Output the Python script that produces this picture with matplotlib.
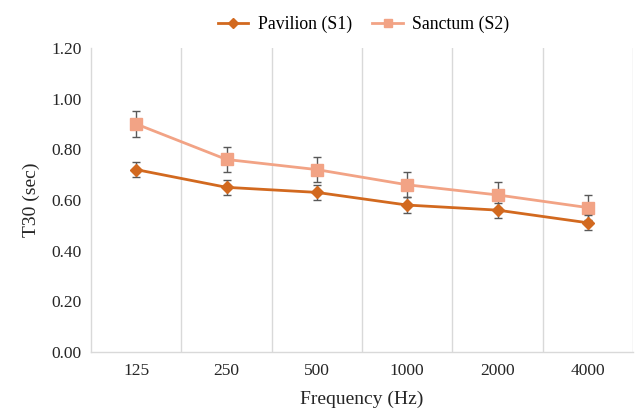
import matplotlib.pyplot as plt
from matplotlib.lines import Line2D
import numpy as np

plt.rcParams['font.family'] = ['Liberation Serif', 'DejaVu Serif']

freqs = ["125", "250", "500", "1000", "2000", "4000"]
pavilion = [0.72, 0.65, 0.63, 0.58, 0.56, 0.51]
pavilion_err = [0.03, 0.03, 0.03, 0.03, 0.03, 0.03]
sanctum = [0.90, 0.76, 0.72, 0.66, 0.62, 0.57]
sanctum_err = [0.05, 0.05, 0.05, 0.05, 0.05, 0.05]

c_pav = "#D2691F"
c_san = "#F2A385"

fig = plt.figure(figsize=(6.36, 4.13), dpi=100)
ax = fig.add_axes([0.1431, 0.1477, 0.8522, 0.7361])

x = np.arange(len(freqs))

# category boundaries as vertical grid
for b in np.arange(0.5, len(freqs) - 0.5 + 1, 1.0):
    ax.axvline(b, color="#d9d9d9", lw=1.0, zorder=0)

ax.errorbar(x, pavilion, yerr=pavilion_err, color=c_pav, lw=2.0, marker="D", ms=6,
            ecolor="#595959", elinewidth=1.0, capsize=3, capthick=1.0, zorder=3)
ax.errorbar(x, sanctum, yerr=sanctum_err, color=c_san, lw=2.0, marker="s", ms=8,
            ecolor="#595959", elinewidth=1.0, capsize=3, capthick=1.0, zorder=2)

ax.set_xlim(-0.5, len(freqs) - 0.5)
ax.set_ylim(0, 1.2)
ax.set_yticks(np.arange(0, 1.21, 0.2))
ax.set_yticklabels(["%.2f" % v for v in np.arange(0, 1.21, 0.2)])
ax.set_xticks(x)
ax.set_xticklabels(freqs)
ax.tick_params(axis="both", length=0, labelsize=12.5, colors="#262626", pad=8)
ax.tick_params(axis="y", pad=6.5)

for s in ["top", "right"]:
    ax.spines[s].set_visible(False)
for s in ["left", "bottom"]:
    ax.spines[s].set_color("#d9d9d9")
    ax.spines[s].set_linewidth(1.0)

ax.set_xlabel("Frequency (Hz)", fontsize=14, color="#262626", labelpad=8)
ax.set_ylabel("T30 (sec)", fontsize=14, color="#262626", labelpad=8)

handles = [Line2D([], [], color=c_pav, lw=2.0, marker="D", ms=5),
           Line2D([], [], color=c_san, lw=2.0, marker="s", ms=6)]
fig.legend(handles, ["Pavilion (S1)", "Sanctum (S2)"], loc="upper center",
           bbox_to_anchor=(0.572, 1.0), ncol=2, frameon=False, fontsize=12.75,
           handlelength=1.7, handletextpad=0.55, columnspacing=1.15)

plt.savefig("out.png", dpi=100)
